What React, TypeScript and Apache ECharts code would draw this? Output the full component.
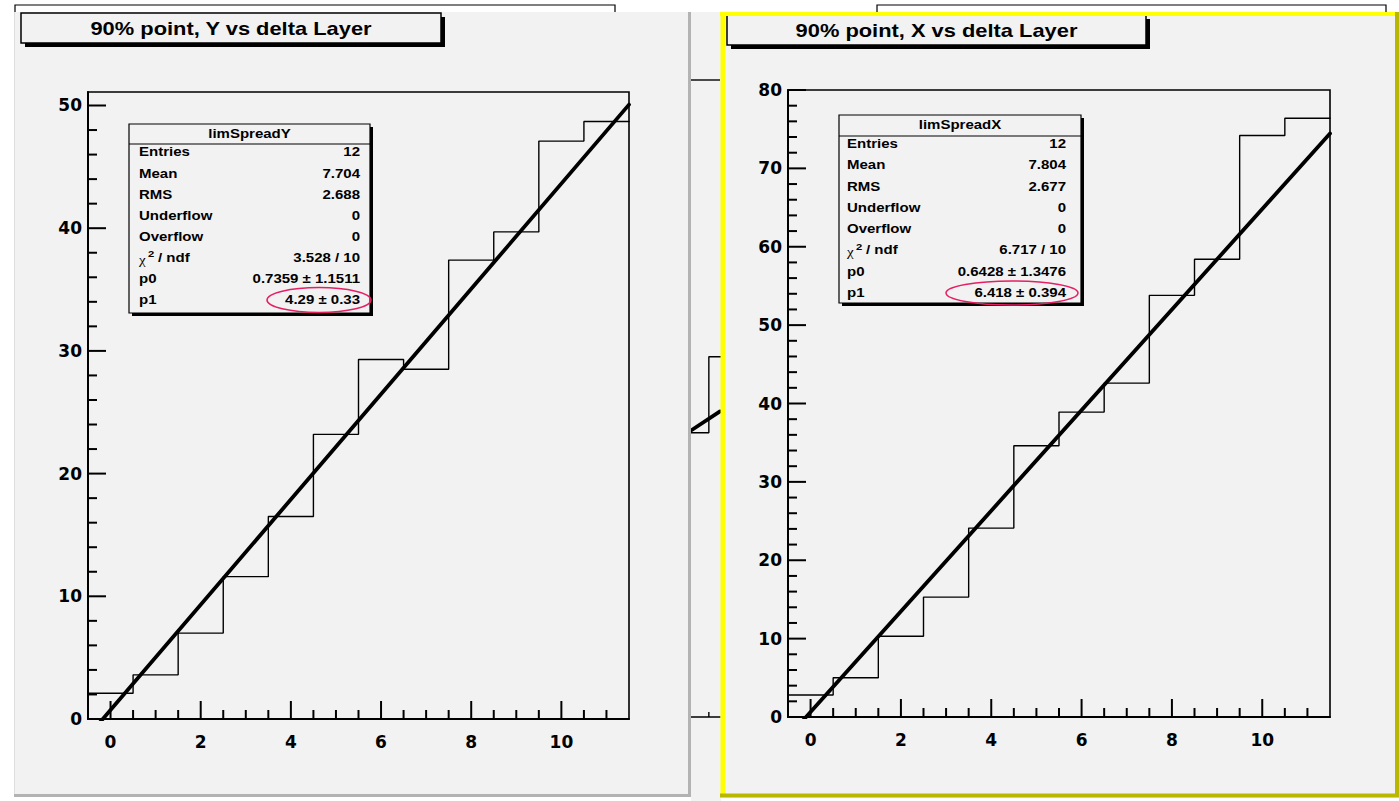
import React, { useEffect, useRef } from "react";
import * as echarts from "echarts";

// Bin centres (delta Layer) shared by both histograms
const binCenters = [0, 1, 2, 3, 4, 5, 6, 7, 8, 9, 10, 11];
const binWidth = 1;

// Bin contents of the two 90%-point histograms
const limSpreadY = [2.1, 3.6, 7.0, 11.6, 16.5, 23.2, 29.3, 28.5, 37.4, 39.7, 47.1, 48.7];
const limSpreadX = [2.8, 5.0, 10.3, 15.3, 24.1, 34.6, 38.9, 42.6, 53.8, 58.4, 74.2, 76.4];

// pol1 fit results
const fitY = { p0: 0.7359, p0Err: 1.1511, p1: 4.29, p1Err: 0.33, chi2: 3.528, ndf: 10 };
const fitX = { p0: 0.6428, p0Err: 1.3476, p1: 6.418, p1Err: 0.394, chi2: 6.717, ndf: 10 };

// Statistics box contents
const statsY = { name: "limSpreadY", entries: 12, mean: "7.704", rms: "2.688", underflow: 0, overflow: 0 };
const statsX = { name: "limSpreadX", entries: 12, mean: "7.804", rms: "2.677", underflow: 0, overflow: 0 };

// Pad titles
const titleY = "90% point, Y vs delta Layer";
const titleX = "90% point, X vs delta Layer";

// Axis ranges and tick labels
const xRange = [-0.5, 11.5];
const yMaxY = 51.1;
const yMaxX = 80;
const xMajorTicks = [0, 2, 4, 6, 8, 10];
const yMajorTicksY = [0, 10, 20, 30, 40, 50];
const yMajorTicksX = [0, 10, 20, 30, 40, 50, 60, 70, 80];

// Slice of the canvas lying behind the two pads
const behindCenters = [5, 6];
const behindBins = [22.8, 28.9];
const behindFit = { p0: 11.0, p1: 2.35 };
const behindRange = [5.1, 5.75];
const behindTicks = [5.5];

// minor tick positions between the labelled ones
const minorSteps = (max: number, step: number, majorStep: number) => {
  const out: number[] = [];
  for (let v = step; v <= max + 1e-9; v += step) {
    const r = Math.round(v * 100) / 100;
    if (Math.abs(r / majorStep - Math.round(r / majorStep)) > 1e-6) out.push(r);
  }
  return out;
};
const xMinorTicks = minorSteps(11, 0.5, 2);
const yMinorTicksY = minorSteps(yMaxY, 2, 10);
const yMinorTicksX = minorSteps(yMaxX, 2, 10);

const stepPoints = (centers: number[], vals: number[]) =>
  vals.flatMap((v, i) => [
    [centers[i] - binWidth / 2, v],
    [centers[i] + binWidth / 2, v],
  ]);
const fitPoints = (f: { p0: number; p1: number }, x0: number, x1: number) => [
  [x0, f.p0 + f.p1 * x0],
  [x1, f.p0 + f.p1 * x1],
];

const TICK_COLOR = "#000";
const axisFont = { color: "#000", fontFamily: "DejaVu Sans", fontWeight: "bold", fontSize: 17 };

const xAxisFor = (g: number, min: number, max: number, labels: number[] | null, width = 2) => ({
  type: "value",
  gridIndex: g,
  min,
  max,
  position: "bottom",
  axisLine: { show: true, onZero: false, lineStyle: { color: "#000", width } },
  axisTick: { show: false },
  axisLabel: labels ? { show: true, customValues: labels, margin: 14, ...axisFont } : { show: false },
  splitLine: { show: false },
});
const yAxisFor = (g: number, max: number, labels: number[] | null) => ({
  type: "value",
  gridIndex: g,
  min: 0,
  max,
  position: "left",
  show: !!labels,
  axisLine: { show: true, onZero: false, lineStyle: { color: "#000", width: 2 } },
  axisTick: { show: false },
  axisLabel: labels ? { show: true, customValues: labels, margin: 6, ...axisFont } : { show: false },
  splitLine: { show: false },
});

const lineSeries = (idx: number, data: number[][], width: number, z: number) => ({
  type: "line",
  xAxisIndex: idx,
  yAxisIndex: idx,
  data,
  symbol: "none",
  showSymbol: false,
  clip: true,
  silent: true,
  z,
  lineStyle: { color: "#000", width, cap: "round" },
});

// ROOT-style ticks pointing into the frame, placed through the axis scales
const tickSeries = (idx: number, dir: "x" | "y", values: number[], len: number, xMin: number, width = 2) => ({
  type: "custom",
  xAxisIndex: idx,
  yAxisIndex: idx,
  silent: true,
  clip: false,
  z: 5,
  data: values.map((v) => (dir === "x" ? [v, 0] : [xMin, v])),
  renderItem: (_p: any, api: any) => {
    const pt = api.coord([api.value(0), api.value(1)]);
    const shape =
      dir === "x"
        ? { x1: pt[0], y1: pt[1], x2: pt[0], y2: pt[1] - len }
        : { x1: pt[0], y1: pt[1], x2: pt[0] + len, y2: pt[1] };
    return { type: "line", shape, style: { stroke: TICK_COLOR, lineWidth: width } };
  },
});

// ---- graphic helpers ----
const rect = (x: number, y: number, w: number, h: number, style: any, z: number) => ({
  type: "rect",
  shape: { x, y, width: w, height: h },
  style,
  z,
  silent: true,
});
const seg = (x1: number, y1: number, x2: number, y2: number, stroke: string, lineWidth: number, z: number) => ({
  type: "line",
  shape: { x1, y1, x2, y2 },
  style: { stroke, lineWidth },
  z,
  silent: true,
});
const label = (x: number, y: number, text: string, font: string, align = "left", z = 20, sx = 1.25) => ({
  type: "text",
  x,
  y,
  scaleX: sx,
  z,
  silent: true,
  style: { text, font, fill: "#000", align, verticalAlign: "middle", textAlign: align, textVerticalAlign: "middle" },
});

const STAT_FONT = "bold 12px 'Liberation Sans'";
const TITLE_FONT = "bold 17.5px 'Liberation Sans'";

const statsBox = (o: {
  x: number; y: number; w: number; h: number; sepY: number; titleY: number;
  rowY0: number; rowStep: number; labelX: number; valueX: number;
  stats: any; fit: any; ell: { cx: number; cy: number; rx: number; ry: number };
}) => {
  const { x, y, w, h, sepY, titleY: ty, rowY0, rowStep, labelX, valueX, stats, fit, ell } = o;
  const els: any[] = [
    rect(x + 3, y + 3, w, h, { fill: "#000" }, 18),
    rect(x, y, w, h, { fill: "#f2f2f2", stroke: "#000", lineWidth: 1.2 }, 19),
    seg(x, sepY, x + w, sepY, "#000", 1.2, 20),
    label(x + w / 2, ty, stats.name, STAT_FONT, "center"),
  ];
  const names = ["Entries", "Mean", "RMS", "Underflow", "Overflow", "", "p0", "p1"];
  const values = [
    String(stats.entries),
    stats.mean,
    stats.rms,
    String(stats.underflow),
    String(stats.overflow),
    `${fit.chi2} / ${fit.ndf}`,
    `${fit.p0} \u00b1 ${fit.p0Err}`,
    `${fit.p1} \u00b1 ${fit.p1Err}`,
  ];
  names.forEach((n, i) => {
    const ry = rowY0 + i * rowStep;
    if (i === 5) {
      els.push(label(labelX, ry + 2, "\u03c7", "12px 'Liberation Serif'"));
      els.push(label(labelX + 9, ry - 4, "2", "bold 9px 'Liberation Sans'"));
      els.push(label(labelX + 19, ry, "/ ndf", STAT_FONT));
    } else {
      els.push(label(labelX, ry, n, STAT_FONT));
    }
    els.push(label(valueX, ry, values[i], STAT_FONT, "right"));
  });
  els.push({
    type: "ellipse",
    shape: ell,
    style: { fill: "none", stroke: "#e61e63", lineWidth: 1.5 },
    z: 22,
    silent: true,
  });
  return els;
};

const titleBox = (x: number, y: number, w: number, h: number, text: string) => [
  rect(x + 4, y + 4, w, h, { fill: "#000" }, 18),
  rect(x, y, w, h, { fill: "#f2f2f2", stroke: "#000", lineWidth: 1.5 }, 19),
  label(x + w / 2, y + h / 2 + 0.5, text, TITLE_FONT, "center"),
];

const buildOption = () => {
  const graphicEls: any[] = [
    // windows further back
    rect(15, 5, 600, 40, { fill: "#fff", stroke: "#000", lineWidth: 1.2 }, -3),
    rect(877, 5, 509, 40, { fill: "#fff", stroke: "#000", lineWidth: 1.2 }, -3),
    rect(691, 12, 30, 789, { fill: "#f2f2f2" }, -2),
    // left pad
    rect(14, 12, 677, 785, { fill: "#f2f2f2" }, -2),
    seg(14.5, 12, 14.5, 797, "#dedede", 1, 30),
    seg(689.5, 12, 689.5, 797, "#b3b3b3", 3, 30),
    seg(14, 795.5, 691, 795.5, "#b3b3b3", 3, 30),
    // right pad (selected, yellow frame)
    rect(720, 12, 679, 786, { fill: "#f2f2f2" }, -2),
    seg(720, 14, 1399, 14, "#ffff00", 4, 30),
    seg(723, 12, 723, 797, "#ffff00", 5, 30),
    seg(720, 795.5, 1399, 795.5, "#b8b800", 4, 31),
    seg(1397, 12, 1397, 797, "#b8b800", 4, 31),
    ...titleBox(21, 13, 420, 30, titleY),
    ...titleBox(727, 15, 419, 30, titleX),
    ...statsBox({
      x: 129, y: 124, w: 241, h: 189, sepY: 144, titleY: 134,
      rowY0: 152.5, rowStep: 21.1, labelX: 139, valueX: 360,
      stats: statsY, fit: fitY, ell: { cx: 319, cy: 300, rx: 52, ry: 12.5 },
    }),
    ...statsBox({
      x: 839, y: 115, w: 242, h: 188, sepY: 136, titleY: 125.5,
      rowY0: 144, rowStep: 21.3, labelX: 847, valueX: 1066,
      stats: statsX, fit: fitX, ell: { cx: 1012, cy: 293, rx: 66, ry: 12 },
    }),
  ];

  const gridBase = { containLabel: false, outerBoundsMode: "none" };

  return {
    animation: false,
    backgroundColor: "#fff",
    grid: [
      { ...gridBase, left: 88, top: 92, width: 541, height: 627, show: true, borderColor: "#000", borderWidth: 1.6, backgroundColor: "transparent" },
      { ...gridBase, left: 788, top: 90, width: 542, height: 627, show: true, borderColor: "#000", borderWidth: 1.6, backgroundColor: "transparent" },
      { ...gridBase, left: 691, top: 80, width: 29, height: 637, show: false },
    ],
    xAxis: [
      xAxisFor(0, xRange[0], xRange[1], xMajorTicks),
      xAxisFor(1, xRange[0], xRange[1], xMajorTicks),
      xAxisFor(2, behindRange[0], behindRange[1], null, 1.5),
    ],
    yAxis: [yAxisFor(0, yMaxY, yMajorTicksY), yAxisFor(1, yMaxX, yMajorTicksX), yAxisFor(2, yMaxY, null)],
    series: [
      lineSeries(0, stepPoints(binCenters, limSpreadY), 1.4, 3),
      lineSeries(0, fitPoints(fitY, xRange[0], xRange[1]), 3.8, 4),
      lineSeries(1, stepPoints(binCenters, limSpreadX), 1.4, 3),
      lineSeries(1, fitPoints(fitX, xRange[0], xRange[1]), 3.8, 4),
      lineSeries(2, stepPoints(behindCenters, behindBins), 1.4, 3),
      lineSeries(2, fitPoints(behindFit, behindRange[0], behindRange[1]), 3.8, 4),
      // frame top of the canvas behind
      {
        type: "line", xAxisIndex: 2, yAxisIndex: 2, symbol: "none", silent: true, clip: false, z: 3,
        data: [[behindRange[0], yMaxY], [behindRange[1], yMaxY]],
        lineStyle: { color: "#000", width: 1.4 },
      },
      // axis ticks
      tickSeries(0, "x", xMajorTicks, 18, xRange[0]),
      tickSeries(0, "x", xMinorTicks, 9, xRange[0]),
      tickSeries(0, "y", yMajorTicksY, 18, xRange[0]),
      tickSeries(0, "y", yMinorTicksY, 9, xRange[0]),
      tickSeries(1, "x", xMajorTicks, 18, xRange[0]),
      tickSeries(1, "x", xMinorTicks, 9, xRange[0]),
      tickSeries(1, "y", yMajorTicksX, 18, xRange[0]),
      tickSeries(1, "y", yMinorTicksX, 9, xRange[0]),
      tickSeries(2, "x", behindTicks, 5, behindRange[0], 1.4),
    ],
    graphic: { elements: graphicEls },
  };
};

export default function App() {
  const ref = useRef<HTMLDivElement>(null);
  useEffect(() => {
    if (!ref.current) return;
    const chart = echarts.init(ref.current, null, { renderer: "svg" });
    chart.setOption(buildOption() as any);
    return () => chart.dispose();
  }, []);
  return (
    <div
      ref={ref}
      style={{ position: "fixed", left: 0, top: 0, width: 1399, height: 801, background: "#fff" }}
    />
  );
}
